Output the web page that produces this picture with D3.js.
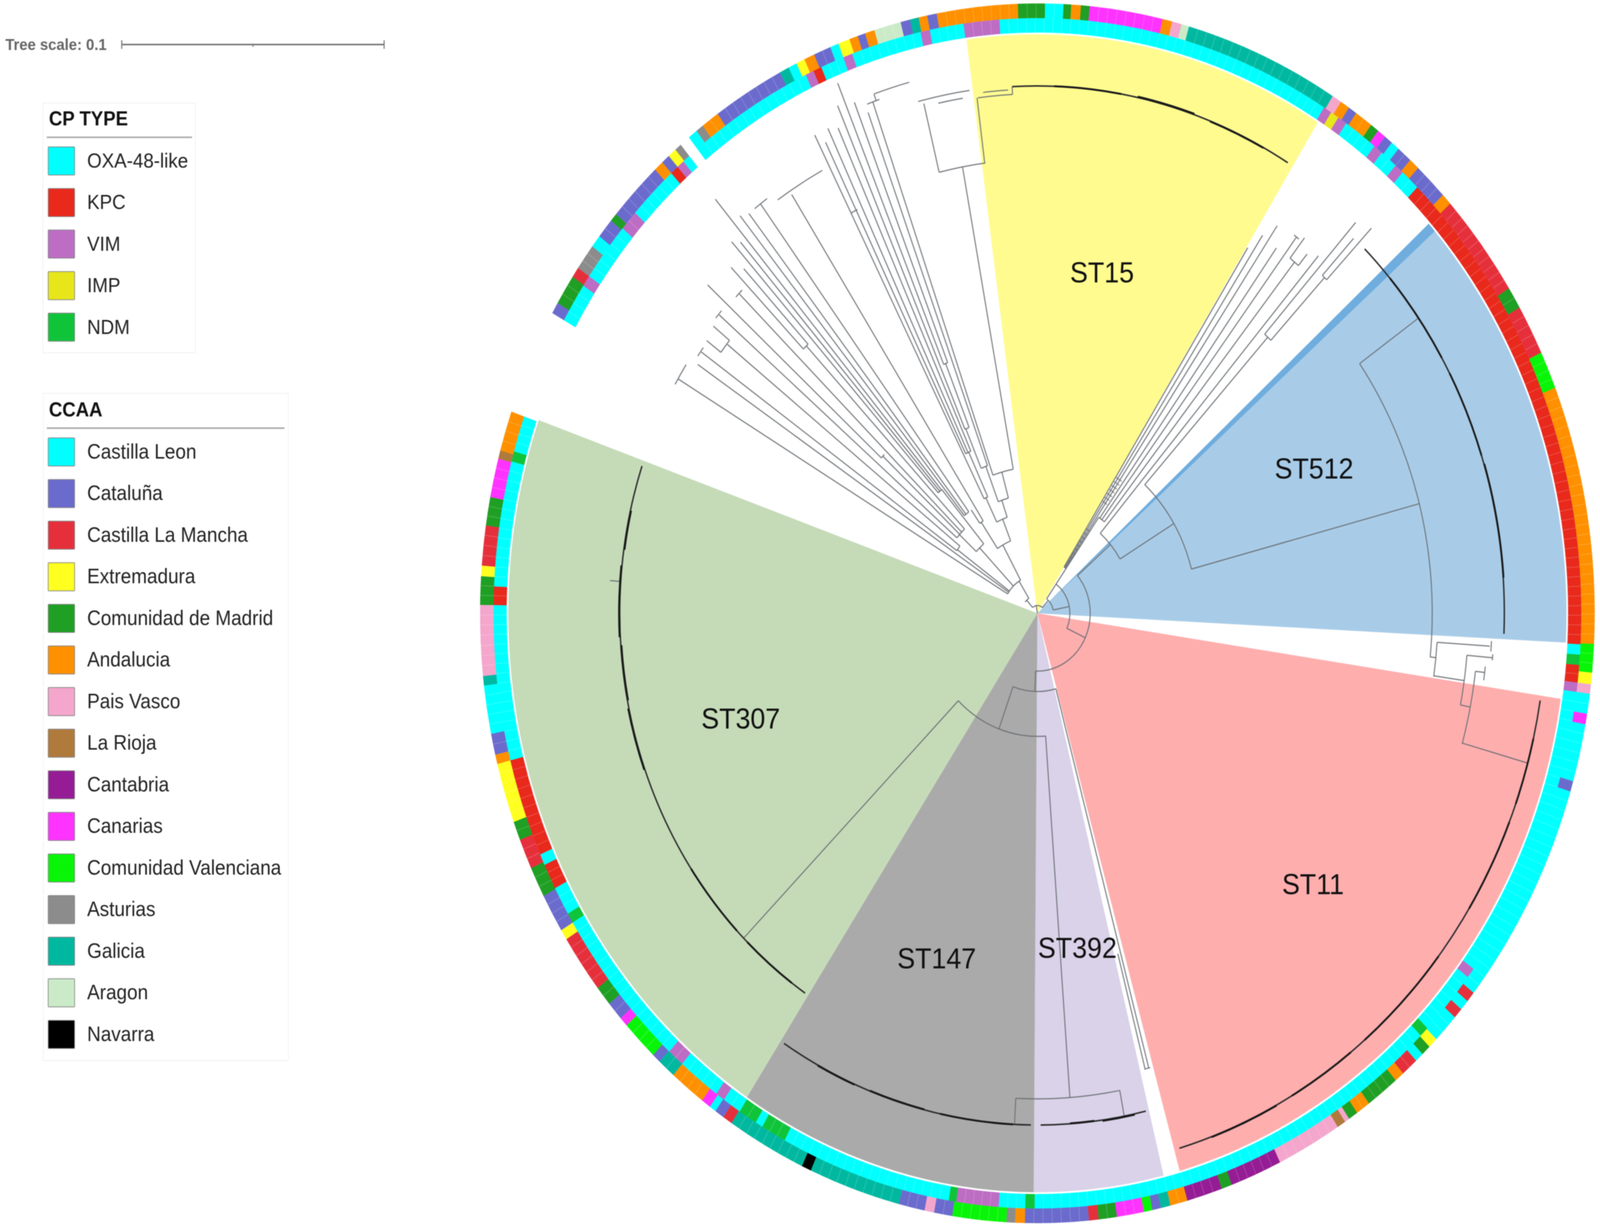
<!DOCTYPE html>
<html>
<head>
<meta charset="utf-8">
<script src="https://cdn.jsdelivr.net/npm/d3@7/dist/d3.min.js"></script>
<style>html,body{margin:0;padding:0;background:#fff;overflow:hidden;width:100%;height:100%}svg{display:block;width:100vw;height:100vh;filter:blur(1.1px)}text{font-family:"Liberation Sans",Arial,sans-serif}</style>
</head>
<body>
<script>
// ---------- legends ----------
const cpTypes = ["OXA-48-like","KPC","VIM","IMP","NDM"];
const cpColors = ["#00ffff","#e8291c","#bd6dc4","#e6e61a","#10c43a"];
const regions = ["Castilla Leon","Cataluña","Castilla La Mancha","Extremadura","Comunidad de Madrid","Andalucia","Pais Vasco","La Rioja","Cantabria","Canarias","Comunidad Valenciana","Asturias","Galicia","Aragon","Navarra"];
const regionColors = ["#00ffff","#6b6bcd","#e5303c","#ffff20","#1f9f24","#ff9000","#f4a6cc","#b07a3c","#951c95","#ff33ff","#08f508","#8c8c8c","#00b8a0","#cbebc8","#000000"];

// ---------- clades: name, start and end angle (degrees clockwise from north) ----------
const cladeNames = ["ST15","ST512","ST11","ST392","ST147","ST307"];
const cladeStart = [352.3,48.7,98.5,166.2,180.4,213.3];
const cladeEnd   = [392,92.9,164.4,180.4,213.3,289.5];
const cladeColors = ["#fffb8f","#a8cce8","#ffaeae","#d9d2e9","#aaaaaa","#c5dbb8"];

// ---------- rings: each run is [category, end angle]; unwrapped degrees ----------
const ringStart = 299.5;
const ccaaRuns = [
["Cataluña",300.6],["Comunidad de Madrid",303.5],["Castilla La Mancha",304.5],["Asturias",307],["Castilla Leon",308.2],["Cataluña",310.1],["Comunidad de Madrid",310.9],["Cataluña",316.7],["Andalucia",317.7],["Cataluña",318.6],["Extremadura",319.5],["Asturias",320.2],[null,321.3],
["Castilla Leon",322.3],["Asturias",323.1],["Andalucia",325],["Cataluña",332.5],["Galicia",333.5],["Castilla Leon",334.4],["Extremadura",335.3],["Andalucia",336.4],["Cataluña",338.2],["Castilla Leon",339.1],["Extremadura",340.3],["Andalucia",341.2],["Cataluña",342],["Andalucia",343],["Aragon",345.8],["Cataluña",346.8],["Galicia",347.7],["Andalucia",348.6],["Cataluña",349.6],["Andalucia",358],["Comunidad de Madrid",360.8],["Castilla Leon",362.7],["Comunidad de Madrid",363.5],["Andalucia",364.5],["Comunidad de Madrid",365.4],["Canarias",373],["Andalucia",374],["Pais Vasco",375],["Aragon",375.8],["Galicia",392],["Pais Vasco",393],["Andalucia",394],["Cataluña",394.9],["Andalucia",396.8],["Comunidad de Madrid",397.7],["Canarias",398.6],["Cataluña",399.5],["Castilla Leon",400.4],["Cataluña",402],["Andalucia",403.1],["Cataluña",406.7],["Andalucia",407.8],["Castilla La Mancha",417.8],["Comunidad de Madrid",419.9],["Castilla La Mancha",424.7],["Comunidad Valenciana",428.3],["Andalucia",452.9],["Comunidad Valenciana",455.6],["Extremadura",456.7],["Pais Vasco",457.6],
["Castilla Leon",459.5],["Canarias",460.5],["Castilla Leon",466],["Cataluña",467],["Castilla Leon",488.5],["Castilla La Mancha",489.5],["Castilla Leon",490.5],["Castilla La Mancha",491.5],["Castilla Leon",494.3],["Extremadura",495.3],["Comunidad de Madrid",496.3],["Castilla Leon",497.2],["Castilla La Mancha",499],["Andalucia",500],["Comunidad de Madrid",503.5],["Andalucia",505],["Comunidad de Madrid",506],["Pais Vasco",506.5],["La Rioja",507.4],["Pais Vasco",514.2],["Cantabria",519.6],["Comunidad de Madrid",520.7],["Cantabria",524.4],["Andalucia",526.2],["Galicia",527.2],["Cataluña",528.1],["Comunidad Valenciana",529],["Canarias",531.8],["Comunidad de Madrid",533.7],["Castilla La Mancha",534.7],["Cataluña",541.3],["Andalucia",542.3],["Asturias",543.2],["Comunidad Valenciana",548.8],["Cataluña",550.7],["Pais Vasco",551.7],["Cataluña",554.4],["Galicia",564],["Navarra",565],["Galicia",573.3],["Castilla La Mancha",574.3],["Cataluña",575.3],["Castilla Leon",576],["Canarias",577],["Andalucia",580.8],["Galicia",582.7],["Cataluña",583.6],["Comunidad Valenciana",587.5],["Canarias",588.4],["Cataluña",590.2],["Comunidad de Madrid",592.1],["Castilla La Mancha",597.7],["Extremadura",598.7],["Cataluña",602.4],["Comunidad de Madrid",605.3],["Castilla La Mancha",608.2],["Comunidad de Madrid",610],["Extremadura",615.7],["Andalucia",616.6],["Cataluña",618.6],["Castilla Leon",623.2],["Galicia",624.1],["Pais Vasco",630.8],["Comunidad de Madrid",633.5],["Extremadura",634.5],["Castilla La Mancha",638.3],["Comunidad de Madrid",641],["Canarias",644.7],["La Rioja",645.5],["Andalucia",649.3]
];
const cpRuns = [
["OXA-48-like",303.4],["VIM",304.5],["OXA-48-like",310.3],["VIM",312.3],["OXA-48-like",317.7],["KPC",318.6],["VIM",319.4],["OXA-48-like",320.2],[null,321.3],
["OXA-48-like",334.8],["VIM",335.7],["KPC",336.6],["OXA-48-like",339.1],["VIM",340.1],["OXA-48-like",347.6],["VIM",348.6],["OXA-48-like",352.2],["VIM",356],["OXA-48-like",391.8],["VIM",392.7],["IMP",393.6],["VIM",394.6],["OXA-48-like",398.3],["VIM",399.3],["OXA-48-like",401.2],["VIM",402.2],["OXA-48-like",404.3],["KPC",453],["OXA-48-like",454],["NDM",455],["KPC",456.7],["VIM",457.6],["OXA-48-like",486.7],["VIM",487.7],["OXA-48-like",494.2],["NDM",495.2],["OXA-48-like",540.3],["NDM",541.3],["OXA-48-like",544.1],["VIM",548.6],["NDM",549.4],["OXA-48-like",567.7],["NDM",570.4],["OXA-48-like",571.2],["NDM",573.2],["OXA-48-like",575.2],["VIM",576.2],["OXA-48-like",580.8],["VIM",582.6],["OXA-48-like",598.7],["NDM",599.7],["OXA-48-like",602.5],["KPC",605],["OXA-48-like",606.1],["KPC",615.7],["OXA-48-like",630.8],["KPC",632.6],["OXA-48-like",644.8],["NDM",645.8],["OXA-48-like",649.3]
];
const leafDegrees = 0.945;

// ---------- tree: branches are [angle, r from, r to], connectors are [r, angle from, angle to] ----------
const branches = [
[350,0,20],[43,20,45],[318,20,45],[79,45,91],[35,45,91],[115,91,148],[49.3,148,270],[59,270,445],[75.3,446,1106],[54.7,1106,1305],
[40.7,270,1207],[42.4,446,957],[41.7,957,1340],[43.1,957,1177],[42.7,1177,1306],[43.5,1177,1359],
[35,91,300],[38.7,300,1152],[37.9,1152,1218],[39.4,1152,1190],[37,300,1205],[35.6,300,1150],[32.2,140,1106],[33.1,140,1155],[34.1,140,1198],
[95.8,1106,1122],[93.8,1122,1270],[98.2,1122,1208],[95.1,1208,1280],[101.2,1208,1236],[96.9,1236,1262],[105.6,1236,1425],
[182,148,200],[165,200,1205],[165.5,900,1205],[200,200,315],[175.8,315,1243],[182.8,1243,1308],[169.3,1243,1310],[224.7,315,1168],[274,1170,1200],
[328,45,97],[331,97,200],[338,200,260],[341,260,306],[344.6,306,375],[349.6,375,1162],[346.3,1162,1343],[352.7,1162,1330],[357,1330,1350],
[340.6,375,1388],[341,1388,1405],[339,306,403],[339.7,403,1367],[337,403,513],[336.7,513,1415],[338.1,513,689],[337.6,689,1468],[338.6,689,1405],
[334,260,329],[333,329,1374],[335,329,455],[333.8,455,1344],[334.7,455,1373],[335.8,455,1362],
[326,200,281],[327.3,281,1274],[325,281,323],[321.7,323,1304],[323.5,323,1304],[320.7,323,1315],
[316,97,233],[319.8,233,415],[319.6,415,1392],[318.8,415,1263],[318,415,1280],[312.7,233,297],[316.6,297,942],[315.9,942,1233],[317,942,1206],[314.4,297,1168],[312.9,297,591],[312.3,591,1249],[310.6,297,1174],
[306,97,277],[308.4,277,1108],[309,1110,1168],[307,1110,1160],[305.4,277,1155],[303.8,97,1145],[300.8,97,1171]
];
const connectors = [
[20,318,403],[45,35,79],[45,310,328],[91,35,115],[148,49.3,182],[270,40.7,59],[446,42.4,75.3],[1106,54.7,95.8],[957,41.7,43.1],[1177,42.7,43.5],[1152,37.9,39.4],[300,35,38.7],[140,32.2,35],[1206,36.6,37.4],
[1122,93.8,98.3],[1274,93.2,94.4],[1208,95.1,101.2],[1236,96.9,105.7],[1262,96.2,97.8],[1280,94.7,95.4],
[200,165,200],[315,175.8,224.7],[1243,169.3,182.8],[1205,164.8,165.6],
[97,300.8,331],[200,326,338],[260,334,341],[306,339,344.6],[375,340.6,349.6],[1162,346.3,352.8],[1330,352.8,357],[1388,339.9,341.4],[403,337,339.7],[513,336.7,338.1],[689,337.6,338.6],[329,333,335],[455,333.8,335.8],[281,325,327.3],[323,320.7,323.5],[1304,322.6,324.5],[233,312.7,319.8],[415,318,319.8],[297,310.6,316.6],[942,315.9,317],[1170,313.8,315],[591,312.3,313.5],[1176,310,311.2],[277,305.4,308.4],[1110,307,309],[1157,304.7,306],[1172,300,302.9],[1150,333,334],[1342,353.5,356.5],[1335,348,351],[1352,345.7,351.9],[1406,341,345.2],[1284,325.5,332]
];
const fanRungs = [160,172,184,196,208,220,232,244,256,340,352,364,376,388,400,412];
const leafArcs = [[1308,44.5,92.3],[1426,99,163.8],[1310,180.8,212.8],[1310,166.6,179.6],[1170,213.8,288.8],[1350,357,391.3]];
const leafCores = [[1308,49,60],[1308,62,72],[1309,73,86],[1426,103,110],[1426,112,122],[1426,128,140],[1426,142,150],[1427,152,160],[1310,183,192],[1309,194,201],[1311,203,208],[1312,168,172],[1309,173,176],[1170,216,224],[1170,226,236],[1172,250,258],[1168,259,266],[1172,267,276],[1168,278,283],[1350,362,370],[1352,372,379],[1349,381,388]];
// ---------- tree scale ----------
const treeScaleLabel = "Tree scale: 0.1";
const treeScaleTicks = [0,0.05,0.1];

const W=4482,H=3141,cx=2906,cy=1570;
const svg=d3.select("body").append("svg").attr("viewBox",[0,0,W,H]).attr("preserveAspectRatio","none");
svg.append("rect").attr("width",W).attr("height",H).attr("fill","#fff");
const ang=d3.scaleLinear().domain([0,360]).range([0,2*Math.PI]);
const rad=d3.scaleLinear().domain([0,1]).range([0,1]);
const cpColor=d3.scaleOrdinal(cpTypes,cpColors), regColor=d3.scaleOrdinal(regions,regionColors);
const plot=svg.append("g").attr("transform",`translate(${cx},${cy})`);
const arc=d3.arc();

plot.append("g").selectAll("path").data(d3.range(cladeNames.length)).join("path")
 .attr("d",i=>arc({innerRadius:0,outerRadius:rad(1482),startAngle:ang(cladeStart[i]),endAngle:ang(cladeEnd[i])}))
 .attr("fill",i=>cladeColors[i]);
plot.append("path").attr("d",arc({innerRadius:0,outerRadius:rad(1482),startAngle:ang(47.7),endAngle:ang(48.7)})).attr("fill","#6fadde");

function ring(runs,color,r0,r1){
 const g=plot.append("g");
 const segs=[];let a=ringStart;
 runs.forEach(([c,e])=>{ if(c) segs.push({c,a,e}); a=e; });
 g.selectAll("path.run").data(segs).join("path").attr("class","run")
  .attr("d",s=>arc({innerRadius:r0,outerRadius:r1,startAngle:ang(s.a),endAngle:ang(s.e)}))
  .attr("fill",s=>color(s.c)).attr("stroke",s=>color(s.c)).attr("stroke-width",0.6);
 const seps=[];
 segs.forEach(s=>{const n=Math.max(1,Math.round((s.e-s.a)/leafDegrees));d3.range(1,n).forEach(k=>seps.push(s.a+(s.e-s.a)*k/n));});
 g.selectAll("path.sep").data(seps).join("path").attr("class","sep")
  .attr("d",d=>d3.line()([d3.pointRadial(ang(d),r0),d3.pointRadial(ang(d),r1)]))
  .attr("stroke","#fff").attr("stroke-opacity",0.2).attr("stroke-width",2);
}
ring(cpRuns,cpColor,1487,1524);
ring(ccaaRuns,regColor,1524,1561);

const tree=plot.append("g").attr("fill","none");
const conn=(r,a,b,w)=>arc({innerRadius:r-w/2,outerRadius:r+w/2,startAngle:ang(a),endAngle:ang(b)});
tree.selectAll("path.conn").data(connectors).join("path").attr("class","conn")
 .attr("d",d=>conn(rad(d[0]),d[1],d[2],3)).attr("fill","#6c7074").attr("fill-opacity",.9);
tree.selectAll("path.rung").data(fanRungs).join("path").attr("class","rung")
 .attr("d",r=>conn(rad(r),32.4,35,2.5)).attr("fill","#888");
tree.selectAll("path.branch").data(branches).join("path").attr("class","branch")
 .attr("d",d=>d3.line()([d3.pointRadial(ang(d[0]),rad(d[1])),d3.pointRadial(ang(d[0]),rad(d[2]))]))
 .attr("stroke","#6c7074").attr("stroke-opacity",.9).attr("stroke-width",3);
tree.selectAll("path.leaf").data(leafArcs).join("path").attr("class","leaf")
 .attr("d",d=>conn(rad(d[0]),d[1],d[2],4)).attr("fill","#2e2e2e");
tree.selectAll("path.core").data(leafCores).join("path").attr("class","core")
 .attr("d",d=>conn(rad(d[0]),d[1],d[2],5)).attr("fill","#1a1a1a");

const labelX=[3087,3681,3678,3018,2624,2075], labelY=[696,1198,2262,2425,2452,1838];
svg.append("g").selectAll("text").data(cladeNames).join("text")
 .attr("x",(d,i)=>labelX[i]).attr("y",(d,i)=>labelY[i]).attr("dy","0.36em")
 .attr("text-anchor","middle").attr("font-size",75).attr("fill","#111").text(d=>d);

const ts=d3.scaleLinear().domain([0,0.1]).range([341,1076]);
const sg=svg.append("g");
sg.append("text").attr("x",15).attr("y",128).attr("font-size",41.5).attr("font-weight",700).attr("fill","#666").text(treeScaleLabel);
sg.append("line").attr("x1",ts(0)).attr("x2",ts(0.1)).attr("y1",114).attr("y2",114).attr("stroke","#777").attr("stroke-width",4);
sg.selectAll("line.t").data(treeScaleTicks).join("line").attr("class","t")
 .attr("x1",d=>ts(d)).attr("x2",d=>ts(d)).attr("y1",d=>d===0.05?114:103).attr("y2",d=>d===0.05?120:125)
 .attr("stroke","#777").attr("stroke-width",3);

function legend(title,names,color,x0,y0,x1,y1,titleY,ruleY,firstY,step,rightRule,fs){
 const g=svg.append("g");
 g.append("rect").attr("x",x0).attr("y",y0).attr("width",x1-x0).attr("height",y1-y0).attr("fill","#fff").attr("stroke","#f0f0f0").attr("stroke-width",2);
 g.append("text").attr("x",137).attr("y",titleY).attr("font-size",52).attr("font-weight",700).attr("fill","#111").text(title);
 g.append("line").attr("x1",131).attr("x2",rightRule).attr("y1",ruleY).attr("y2",ruleY).attr("stroke","#aaa").attr("stroke-width",4);
 const row=g.selectAll("g").data(names).join("g").attr("transform",(d,i)=>`translate(0,${firstY+i*step})`);
 row.append("rect").attr("x",135).attr("y",0).attr("width",74).attr("height",72).attr("rx",2).attr("fill",d=>color(d)).attr("stroke","#888").attr("stroke-width",2);
 row.append("text").attr("x",244).attr("y",53).attr("font-size",fs).attr("fill","#222").text(d=>d);
}
legend("CP TYPE",cpTypes,cpColor,120,264,547,903,321,351.5,376,106.4,538,52.5);
legend("CCAA",regions,regColor,121,1007,808,2715,1066,1096,1121,106.5,797,53);
</script>
</body>
</html>
